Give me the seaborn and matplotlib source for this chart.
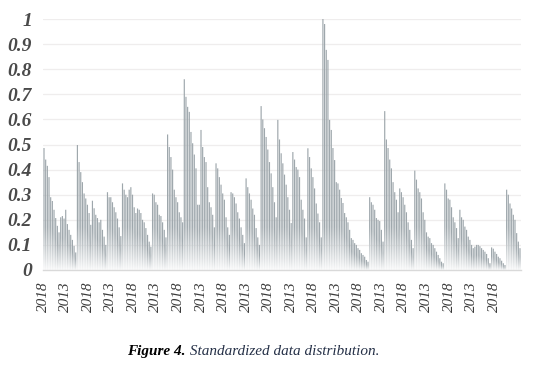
import numpy as np
import pandas as pd
import matplotlib
matplotlib.use("Agg")
import matplotlib.pyplot as plt
import seaborn as sns
from matplotlib.colors import to_rgb
from matplotlib.patches import Rectangle
from matplotlib.collections import PatchCollection

sns.set_style("white")
plt.rcParams['font.family'] = ['Liberation Serif', 'DejaVu Serif']

# ===== data, one sawtooth run per list =====
run01 = [0.486, 0.44, 0.415, 0.37, 0.29, 0.275, 0.24, 0.207, 0.176, 0.15,
         0.21, 0.215, 0.205, 0.24, 0.183, 0.16, 0.14, 0.12, 0.096, 0.07]
run02 = [0.498, 0.43, 0.39, 0.35, 0.305, 0.285, 0.26, 0.227, 0.18, 0.276,
         0.246, 0.22, 0.207, 0.19, 0.2, 0.16, 0.133, 0.1]
run03 = [0.31, 0.29, 0.29, 0.27, 0.25, 0.23, 0.205, 0.17, 0.135]
run04 = [0.345, 0.32, 0.30, 0.29, 0.32, 0.33, 0.30, 0.25, 0.227, 0.245,
         0.24, 0.227, 0.2, 0.19, 0.167, 0.14, 0.113, 0.093]
run05 = [0.305, 0.30, 0.27, 0.26, 0.22, 0.215, 0.19, 0.16, 0.13]
run06 = [0.54, 0.49, 0.45, 0.40, 0.32, 0.29, 0.27, 0.23, 0.21, 0.19]
run07 = [0.76, 0.69, 0.65, 0.63, 0.55, 0.505, 0.46, 0.405, 0.26, 0.26]
run08 = [0.558, 0.49, 0.45, 0.43, 0.33, 0.27, 0.25, 0.22, 0.17]
run09 = [0.425, 0.405, 0.37, 0.34, 0.305, 0.28, 0.21, 0.17, 0.14]
run10 = [0.31, 0.305, 0.29, 0.265, 0.23, 0.205, 0.17, 0.14, 0.107]
run11 = [0.365, 0.33, 0.305, 0.28, 0.245, 0.22, 0.167, 0.13, 0.1]
run12 = [0.653, 0.60, 0.565, 0.53, 0.48, 0.43, 0.385, 0.33, 0.27, 0.21]
run13 = [0.598, 0.52, 0.465, 0.425, 0.38, 0.34, 0.29, 0.24, 0.187]
run14 = [0.47, 0.44, 0.41, 0.40, 0.37, 0.28, 0.24, 0.205, 0.13]
run15 = [0.485, 0.45, 0.405, 0.37, 0.325, 0.265, 0.225, 0.19, 0.13]
run16 = [1.0, 0.98, 0.877, 0.837, 0.598, 0.558, 0.486, 0.438, 0.35, 0.345,
         0.32, 0.287, 0.267, 0.227, 0.21, 0.19, 0.16, 0.127, 0.12, 0.107,
         0.1, 0.087, 0.08, 0.067, 0.06, 0.053, 0.04, 0.033]
run17 = [0.29, 0.27, 0.26, 0.24, 0.207, 0.2, 0.195, 0.16, 0.113]
run18 = [0.633, 0.52, 0.486, 0.44, 0.405, 0.35, 0.31, 0.28, 0.23]
run19 = [0.325, 0.31, 0.29, 0.26, 0.23, 0.19, 0.16, 0.12, 0.087]
run20 = [0.396, 0.36, 0.325, 0.31, 0.285, 0.23, 0.2, 0.15, 0.133, 0.127,
         0.107, 0.1, 0.087, 0.073, 0.06, 0.047, 0.033, 0.027]
run21 = [0.345, 0.32, 0.285, 0.28, 0.25, 0.21, 0.19, 0.167, 0.127]
run22 = [0.24, 0.21, 0.2, 0.173, 0.16, 0.133, 0.12, 0.1, 0.087, 0.093,
         0.1, 0.1, 0.095, 0.087, 0.08, 0.073, 0.064, 0.047, 0.027]
run23 = [0.09, 0.085, 0.073, 0.064, 0.053, 0.047, 0.037, 0.027, 0.02]
run24 = [0.32, 0.30, 0.265, 0.245, 0.22, 0.2, 0.147, 0.113, 0.087]

runs = [run01, run02, run03, run04, run05, run06, run07, run08, run09, run10,
        run11, run12, run13, run14, run15, run16, run17, run18, run19, run20,
        run21, run22, run23, run24]
values = [v for r in runs for v in r]

tick_labels = ['2018', '2013'] * 10 + ['2018']
y_ticks = [0, 0.1, 0.2, 0.3, 0.4, 0.5, 0.6, 0.7, 0.8, 0.9, 1]
y_tick_labels = ['0', '0.1', '0.2', '0.3', '0.4', '0.5', '0.6', '0.7', '0.8', '0.9', '1']

df = pd.DataFrame({'idx': np.arange(len(values)), 'value': values})

# ===== plot =====
W, H = 541, 367
fig = plt.figure(figsize=(W / 100, H / 100), dpi=100)
# 坐标轴按整像素放置，便于渐变条带对齐像素行
ax = fig.add_axes([43 / W, 97 / H, 478 / W, 251 / H])

top_hex = '#9ea7ac'
sns.barplot(data=df, x='idx', y='value', color=top_hex, width=0.7,
            saturation=1, errorbar=None, ax=ax, zorder=2,
            linewidth=0, edgecolor='none')

# 渐变：柱子下部用一像素高的条带逐渐变白（条带互不重叠）
top_rgb = np.array(to_rgb(top_hex))
white = np.ones(3)
row = 1.0 / 251  # 一个像素行对应的数据高度
rects, cols = [], []
for p in ax.patches:
    p.set_snap(False)
    x0, w, h = p.get_x(), p.get_width(), p.get_height()
    if h <= 0:
        continue
    fade = min(0.6 * h, 0.17)
    n = max(1, int(round(fade / row)))
    while n * row > h and n > 1:
        n -= 1
    edge = n * row
    for k in range(n):
        a = 0.06 + 0.94 * ((k + 0.5) / n) ** 0.9
        rects.append(Rectangle((x0, k * row), w, row))
        cols.append(white * (1 - a) + top_rgb * a)
    p.set_y(edge)
    p.set_height(h - edge)
pc = PatchCollection(rects, facecolors=cols, edgecolors='none', linewidths=0,
                     antialiased=True, zorder=2.1)
pc.set_snap(False)
ax.add_collection(pc)

ax.set_xlim(-0.6, len(values) - 0.4)
ax.set_ylim(0, 1.0)

for yv in y_ticks[1:]:
    ax.axhline(yv, color='#efeded', lw=0.9, zorder=0)

ax.set_yticks(y_ticks)
ax.set_yticklabels(y_tick_labels, fontsize=14, fontweight='bold', style='italic', color='#4a4a4a')
ax.set_xticks(np.arange(len(tick_labels)) * 13.5 - 0.5)
ax.set_xticklabels(tick_labels, rotation=90, fontsize=11, fontweight='normal',
                   style='italic', color='#3a3a3a')
ax.tick_params(axis='y', length=0, pad=8)
ax.tick_params(axis='x', length=0, pad=8)
ax.set_xlabel('')
ax.set_ylabel('')

for s in ['top', 'right', 'left']:
    ax.spines[s].set_visible(False)
ax.spines['bottom'].set_color('#d9d9d9')
ax.spines['bottom'].set_linewidth(1.0)
ax.spines['bottom'].set_zorder(3)

# 图注
t1 = fig.text(0.2348, 0.041, 'Figure 4.', fontsize=11, fontweight='bold',
              style='italic', color='black', va='center', ha='left')
ax.annotate(' Standardized data distribution.', xy=(1, 0), xycoords=t1,
            va='bottom', ha='left', fontsize=11, style='italic', color='#253047',
            annotation_clip=False)

fig.savefig('out.png', dpi=100)
